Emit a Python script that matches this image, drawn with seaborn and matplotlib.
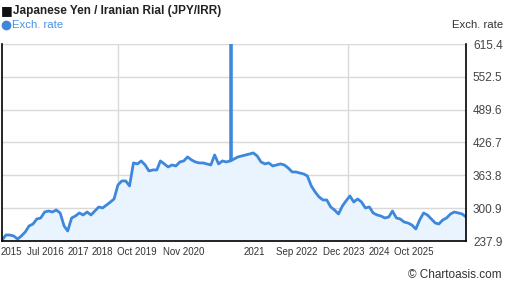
import numpy as np, pandas as pd
import matplotlib; matplotlib.use("Agg")
import matplotlib.pyplot as plt
from matplotlib.lines import Line2D
import seaborn as sns

# monthly JPY/IRR readings, Oct 2015 .. Oct 2025
months = pd.date_range("2015-10-01", "2025-10-01", freq="MS")
rate = [239.8, 249.4, 249.4, 247.5, 241.7, 247.5, 255.2, 266.7, 270.5, 280.1,
        282.0, 293.5, 295.4, 293.5, 297.3, 291.6, 266.7, 257.1, 282.0, 285.8,
        291.6, 287.8, 293.5, 287.8, 295.4, 303.1, 301.2, 306.9, 312.7, 318.4,
        345.3, 353.0, 353.0, 343.4, 387.5, 385.6, 391.3, 383.6, 372.1, 374.1,
        374.1, 391.3, 385.6, 379.8, 383.6, 381.7, 389.4, 391.3, 399.0, 393.2,
        389.4, 387.5, 387.5, 385.6, 383.6, 402.8, 385.6, 391.3, 389.4, 391.3,
        395.1, 399.0, 400.9, 402.8, 404.7, 406.7, 400.9, 389.4, 385.6, 387.5,
        381.7, 383.6, 385.6, 383.6, 377.9, 370.2, 370.2, 368.3, 366.4, 362.6,
        343.4, 331.9, 322.3, 316.5, 316.5, 303.1, 297.3, 289.7, 305.0, 314.6,
        324.2, 312.7, 318.4, 312.7, 301.2, 303.1, 291.6, 287.8, 285.8, 282.0,
        283.9, 295.4, 282.0, 280.1, 274.3, 272.4, 268.6, 260.9, 278.2, 291.6,
        287.8, 280.1, 272.4, 270.5, 278.2, 282.0, 289.7, 293.5, 291.6, 289.7,
        283.9]
# one-day spike in Sep 2020
spike_dates = ["2020-09-06", "2020-09-07", "2020-09-08"]
spike_rate = [391.5, 615.4, 392.0]

y_ticks = [237.9, 300.9, 363.8, 426.7, 489.6, 552.5, 615.4]
x_labels = ["2015", "Jul 2016", "2017", "2018", "Oct 2019", "Nov 2020",
            "2021", "Sep 2022", "Dec 2023", "2024", "Oct 2025"]
x_label_pos = ["2015-12-10", "2016-09-04", "2017-05-20", "2017-11-27", "2018-08-28",
               "2019-09-03", "2021-03-06", "2022-02-09", "2023-02-12", "2023-11-16",
               "2024-08-16"]
v_grid = ["2018-04-01", "2023-03-20"]

df = pd.concat([pd.DataFrame({"date": months, "rate": rate}),
                pd.DataFrame({"date": pd.to_datetime(spike_dates), "rate": spike_rate})])
df = df.sort_values("date").reset_index(drop=True)

sns.set_style("white")
plt.rcParams["font.family"] = ["Liberation Sans", "DejaVu Sans"]

W, H = 507, 288
fig = plt.figure(figsize=(W / 100, H / 100), dpi=100)
ax = fig.add_axes([2 / W, 47 / H, 464 / W, 197 / H])

LINE = "#3d87dc"
ax.fill_between(df["date"], df["rate"], y_ticks[0], color="#eaf4fe", lw=0)
sns.lineplot(data=df, x="date", y="rate", ax=ax, color=LINE, linewidth=2.0)

ax.set_xlim(pd.Timestamp("2015-10-01"), pd.Timestamp("2025-10-01"))
ax.set_ylim(y_ticks[0], y_ticks[-1])
ax.set_yticks(y_ticks)
ax.set_yticklabels([f"{v:.1f}" for v in y_ticks])
ax.yaxis.tick_right()
ax.set_xticks(pd.to_datetime(x_label_pos))
ax.set_xticklabels(x_labels)
ax.set_xticks(pd.to_datetime(v_grid), minor=True)
ax.tick_params(axis="both", length=0, labelsize=7, colors="#333333")
ax.tick_params(axis="y", pad=5, labelsize=8.5, colors="#444444")
ax.tick_params(axis="x", pad=4)
ax.grid(axis="y", color="#d9d9d9", lw=1)
ax.grid(axis="x", which="minor", color="#d9d9d9", lw=1)
ax.set_xlabel(""); ax.set_ylabel("")
for s in ["left", "bottom", "right"]:
    ax.spines[s].set_color("black"); ax.spines[s].set_linewidth(1.2)
ax.spines["top"].set_visible(False)

fig.text(1 / W, 1 - 11 / H, "■", fontsize=9, va="center", ha="left", color="#111111",
         family=["DejaVu Sans"])
fig.text(13 / W, 1 - 11 / H, "Japanese Yen / Iranian Rial (JPY/IRR)", fontsize=8.5,
         fontweight="bold", va="center", ha="left", color="#222222")
fig.add_artist(Line2D([6 / W], [1 - 25 / H], marker="o", markersize=6, color=LINE,
                      lw=0, transform=fig.transFigure))
fig.text(12 / W, 1 - 25 / H, "Exch. rate", fontsize=8.2, va="center", ha="left", color="#4a90e2")
fig.text(503 / W, 1 - 25 / H, "Exch. rate", fontsize=8.2, va="center", ha="right", color="#333333")
fig.text(502 / W, 1 - 275 / H, "© Chartoasis.com", fontsize=8.5, va="center", ha="right",
         color="#333333")

fig.savefig("out.png", dpi=100)
